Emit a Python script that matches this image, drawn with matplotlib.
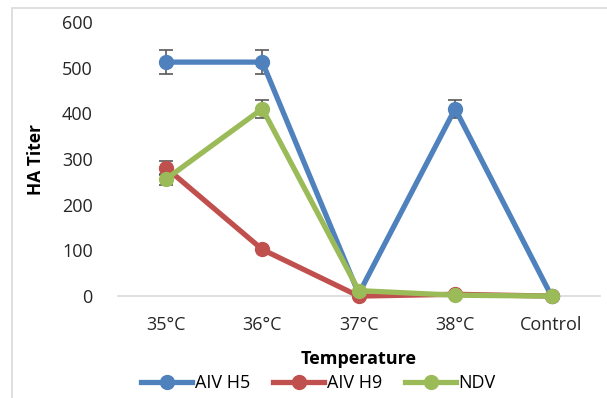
import numpy as np
import matplotlib.pyplot as plt
from matplotlib.patches import Rectangle
from matplotlib.lines import Line2D

# data
temps = ["35°C", "36°C", "37°C", "38°C", "Control"]
h5 = [512, 512, 5, 410, 0]
h5_err = [26, 26, 0, 20, 0]
h9 = [281, 102, 0, 4, 0]
h9_err = [15, 0, 0, 0, 0]
ndv = [256, 410, 12, 2, 0]
ndv_err = [12, 20, 0, 0, 0]

plt.rcParams['font.family'] = ['Open Sans', 'DejaVu Sans']

fig = plt.figure(figsize=(6.07, 3.98), dpi=100)
ax = fig.add_axes([0.194, 0.256, 0.794, 0.689])

x = np.arange(len(temps))
series = [("AIV H5", h5, h5_err, "#4f81bd"),
          ("AIV H9", h9, h9_err, "#c0504d"),
          ("NDV", ndv, ndv_err, "#9bbb59")]
handles = []
for name, vals, err, col in series:
    ax.errorbar(x, vals, yerr=err, color=col, lw=3.8, marker='o', ms=10,
                ecolor='#595959', elinewidth=1.2, capsize=5, capthick=1.2,
                zorder=3)
    handles.append(Line2D([], [], color=col, lw=3.8, marker='o', ms=10, label=name))

ax.set_xlim(-0.5, len(temps) - 0.5)
ax.set_ylim(0, 600)
ax.set_yticks(range(0, 601, 100))
ax.set_xticks(x)
ax.set_xticklabels(temps)
ax.tick_params(length=0, labelsize=13, colors='#262626')
ax.tick_params(axis='y', pad=18)
ax.tick_params(axis='x', pad=14)
for s in ['top', 'right', 'left']:
    ax.spines[s].set_visible(False)
ax.spines['bottom'].set_color('#d9d9d9')
ax.spines['bottom'].set_linewidth(1.2)
for ln in ax.lines:
    ln.set_clip_on(False)

ax.set_xlabel("Temperature", fontsize=13, fontweight='bold', labelpad=12)
ax.set_ylabel("HA Titer", fontsize=12.5, fontweight='bold', labelpad=12)

fig.legend(handles=handles, loc='center', bbox_to_anchor=(0.525, 0.037), ncol=3,
           frameon=False, fontsize=13, handlelength=2.8, columnspacing=1.3,
           handletextpad=0.15)

fig.patches.append(Rectangle((0.02, -0.01), 1.0, 0.99, transform=fig.transFigure,
                             fill=False, ec='#d9d9d9', lw=1.2))

fig.savefig("out.png", dpi=100)
